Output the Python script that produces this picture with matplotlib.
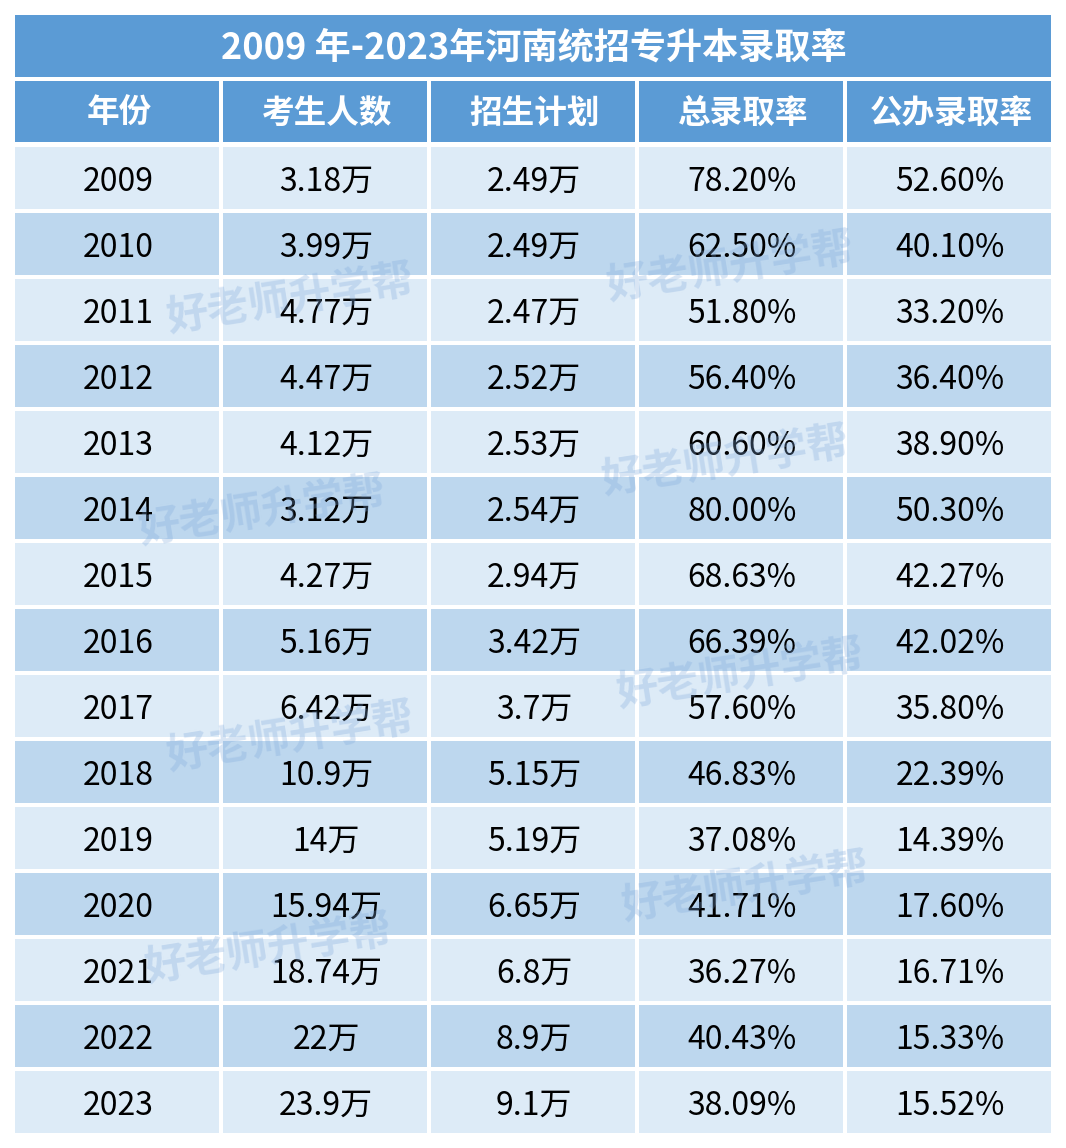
import matplotlib.pyplot as plt
from matplotlib.patches import Rectangle

plt.rcParams['font.family'] = ['Noto Sans CJK SC', 'DejaVu Sans']

title = '2009 年-2023年河南统招专升本录取率'
headers = ['年份', '考生人数', '招生计划', '总录取率', '公办录取率']
years = ['2009', '2010', '2011', '2012', '2013', '2014', '2015', '2016',
         '2017', '2018', '2019', '2020', '2021', '2022', '2023']
applicants = ['3.18万', '3.99万', '4.77万', '4.47万', '4.12万', '3.12万', '4.27万', '5.16万',
              '6.42万', '10.9万', '14万', '15.94万', '18.74万', '22万', '23.9万']
plans = ['2.49万', '2.49万', '2.47万', '2.52万', '2.53万', '2.54万', '2.94万', '3.42万',
         '3.7万', '5.15万', '5.19万', '6.65万', '6.8万', '8.9万', '9.1万']
total_rate = ['78.20%', '62.50%', '51.80%', '56.40%', '60.60%', '80.00%', '68.63%', '66.39%',
              '57.60%', '46.83%', '37.08%', '41.71%', '36.27%', '40.43%', '38.09%']
public_rate = ['52.60%', '40.10%', '33.20%', '36.40%', '38.90%', '50.30%', '42.27%', '42.02%',
               '35.80%', '22.39%', '14.39%', '17.60%', '16.71%', '15.33%', '15.52%']

columns = [years, applicants, plans, total_rate, public_rate]

W, H = 1066, 1148
fig = plt.figure(figsize=(W / 100, H / 100), dpi=100)
ax = fig.add_axes([0, 0, 1, 1])
ax.set_xlim(0, W)
ax.set_ylim(H, 0)
ax.axis('off')

head_c = '#5B9BD5'
row_c = ['#DDEBF7', '#BDD7EE']

x0, col_w, gap = 15, 204, 4
row_h, pitch = 62, 66

# title band
ax.add_patch(Rectangle((x0, 15), 5 * col_w + 4 * gap, 62, color=head_c, lw=0))
ax.text(W / 2 + 1, 48, title, ha='center', va='center', color='white',
        fontsize=26, fontweight='bold')

# header row
for j, h in enumerate(headers):
    x = x0 + j * (col_w + gap)
    ax.add_patch(Rectangle((x, 81), col_w, 61, color=head_c, lw=0))
    ax.text(x + col_w / 2 + 2, 113, h, ha='center', va='center', color='white',
            fontsize=23.5, fontweight='bold')

# data rows
for i in range(len(years)):
    y = 147 + i * pitch
    for j, col in enumerate(columns):
        x = x0 + j * (col_w + gap)
        ax.add_patch(Rectangle((x, y), col_w, row_h, color=row_c[i % 2], lw=0))
        ax.text(x + col_w / 2 + 1, y + row_h / 2 + 4, col[i], ha='center', va='center',
                color='black', fontsize=23)

# faint watermarks
marks = [(290, 300), (730, 268), (725, 462), (262, 512), (740, 675),
         (290, 738), (745, 888), (268, 950)]
for mx, my in marks:
    ax.text(mx, my, '好老师升学帮', ha='center', va='center', fontsize=30,
            fontweight='bold', color='#7FA8DC', alpha=0.3, rotation=9, zorder=5)

fig.savefig('out.png', dpi=100)
